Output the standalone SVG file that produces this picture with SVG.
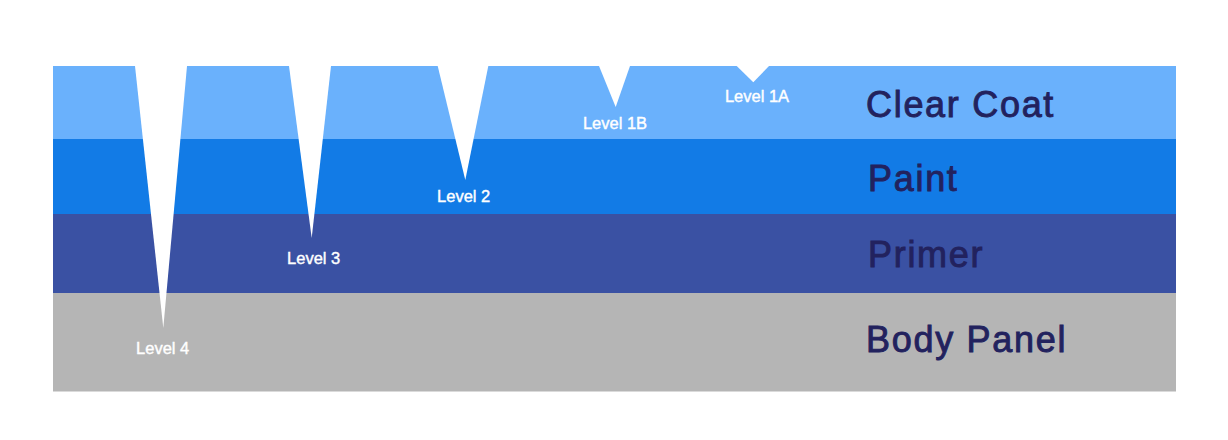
<svg xmlns="http://www.w3.org/2000/svg" width="1228" height="440" viewBox="0 0 1228 440">
<style>
.lvl{font-family:"Liberation Sans",Arial,sans-serif;font-size:16.5px;fill:#ffffff;stroke:#ffffff;stroke-width:0.4px;text-anchor:middle}
.layer{font-family:"Liberation Sans",Arial,sans-serif;font-size:36px;fill:#22225e;stroke:#22225e;stroke-width:0.9px;letter-spacing:1.7px}
.cut{fill:#ffffff}
</style>
<rect width="1228" height="440" fill="#ffffff"/>
<g id="clear-coat"><rect x="53" y="66" width="1123" height="73" fill="#6ab1fc"/><text class="layer" x="866" y="117">Clear Coat</text></g>
<g id="paint"><rect x="53" y="139" width="1123" height="75" fill="#127be6"/><text class="layer" x="868" y="191">Paint</text></g>
<g id="primer"><rect x="53" y="214" width="1123" height="79" fill="#3a51a3"/><text class="layer" x="868" y="267">Primer</text></g>
<g id="body-panel"><rect x="53" y="293" width="1123" height="98.5" fill="#b5b5b5"/><text class="layer" x="866" y="352">Body Panel</text></g>
<g id="level-4"><polygon class="cut" points="135,66 187,66 163.3,328"/><text class="lvl" x="162.7" y="353.5">Level 4</text></g>
<g id="level-3"><polygon class="cut" points="289,66 331,66 311.7,238"/><text class="lvl" x="313.7" y="263.5">Level 3</text></g>
<g id="level-2"><polygon class="cut" points="437.7,66 488.3,66 465.3,180"/><text class="lvl" x="463.7" y="201.5">Level 2</text></g>
<g id="level-1b"><polygon class="cut" points="599,66 630,66 615.7,107"/><text class="lvl" x="615" y="129">Level 1B</text></g>
<g id="level-1a"><polygon class="cut" points="736.7,66 769,66 753.3,82.3"/><text class="lvl" x="757" y="101.7">Level 1A</text></g>
<g id="connectors"></g>
</svg>
